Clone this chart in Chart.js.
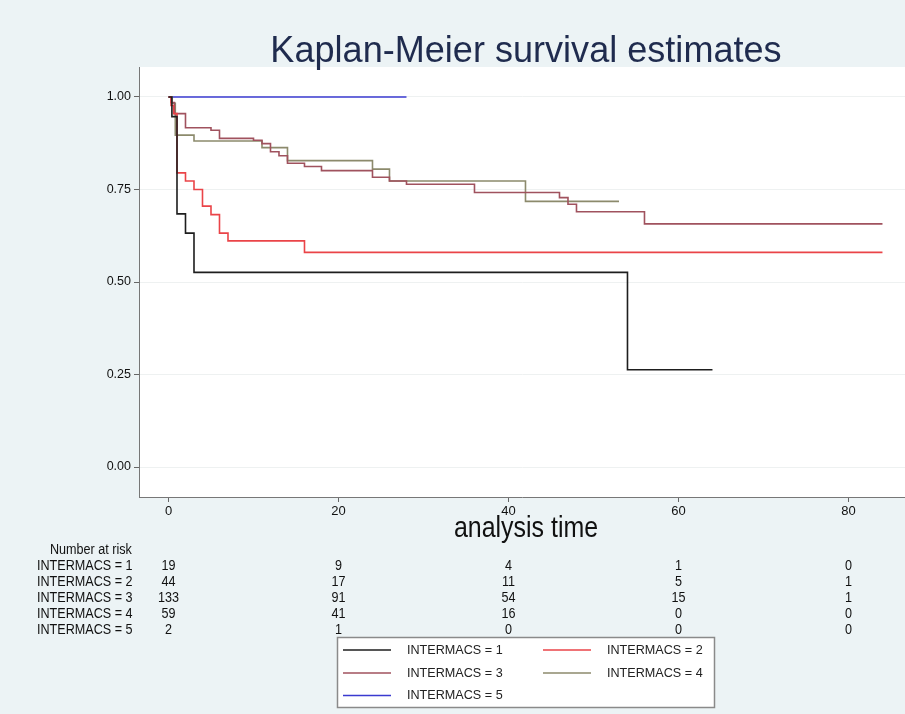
<!DOCTYPE html>
<html>
<head>
<meta charset="utf-8">
<script src="https://cdn.jsdelivr.net/npm/chart.js@4.4.1/dist/chart.umd.min.js"></script>
<style>
  html, body { margin: 0; padding: 0; background: #ecf3f5; }
  #wrap { width: 905px; height: 714px; position: relative; }
</style>
</head>
<body>
<div id="wrap"><canvas id="km" width="905" height="714"></canvas></div>
<script>
// Kaplan-Meier step functions: time of each drop and the survival after it
const groupNames = ['INTERMACS = 1', 'INTERMACS = 2', 'INTERMACS = 3', 'INTERMACS = 4', 'INTERMACS = 5'];

const timeG1 = [0, 0.4, 1, 2, 3, 54, 64];
const survG1 = [1, 0.947, 0.684, 0.632, 0.526, 0.263, 0.263];

const timeG2 = [0, 0.3, 0.6, 1, 2, 3, 4, 5, 6, 7, 16, 84];
const survG2 = [1, 0.977, 0.955, 0.795, 0.773, 0.750, 0.705, 0.682, 0.632, 0.611, 0.580, 0.580];

const timeG3 = [0, 0.3, 0.7, 2, 5, 6, 10, 11, 12, 13, 14, 16, 18, 24, 26, 28, 36, 46, 47, 48, 56, 84];
const survG3 = [1, 0.985, 0.955, 0.917, 0.910, 0.888, 0.883, 0.874, 0.852, 0.841, 0.821, 0.812, 0.801, 0.783, 0.773, 0.764, 0.742, 0.728, 0.710, 0.690, 0.657, 0.657];

const timeG4 = [0, 0.4, 0.8, 3, 11, 14, 24, 26, 42, 53];
const survG4 = [1, 0.983, 0.897, 0.881, 0.863, 0.828, 0.805, 0.773, 0.718, 0.718];

const timeG5 = [0, 28];
const survG5 = [1, 1];

// Number at risk at each labelled time
const riskTimes = [0, 20, 40, 60, 80];
const riskG1 = [19, 9, 4, 1, 0];
const riskG2 = [44, 17, 11, 5, 1];
const riskG3 = [133, 91, 54, 15, 1];
const riskG4 = [59, 41, 16, 0, 0];
const riskG5 = [2, 1, 0, 0, 0];

const xTicks = [0, 20, 40, 60, 80];
const yTicks = [0, 0.25, 0.5, 0.75, 1];

const lineColors = ['#1e1e1e', '#ea4448', '#a0525e', '#8c8a6c', '#3a3ad0'];

const times = [timeG1, timeG2, timeG3, timeG4, timeG5];
const survs = [survG1, survG2, survG3, survG4, survG5];
const risks = [riskG1, riskG2, riskG3, riskG4, riskG5];

const FONT = '"Liberation Sans", Arial, Helvetica, sans-serif';

function squeezedText(ctx, text, x, y, size, align, sx, color, baseline) {
  ctx.save();
  ctx.font = size + 'px ' + FONT;
  ctx.fillStyle = color;
  ctx.textBaseline = baseline || 'middle';
  ctx.textAlign = align;
  ctx.translate(x, y);
  ctx.scale(sx, 1);
  ctx.fillText(text, 0, 0);
  ctx.restore();
}

const decorations = {
  id: 'decorations',
  beforeDraw(chart) {
    const ctx = chart.ctx, a = chart.chartArea;
    ctx.save();
    ctx.fillStyle = '#ecf3f5';
    ctx.fillRect(0, 0, chart.width, chart.height);
    ctx.fillStyle = '#ffffff';
    ctx.fillRect(a.left, a.top, a.right - a.left, a.bottom - a.top);
    ctx.restore();
  },
  afterDraw(chart) {
    const ctx = chart.ctx, a = chart.chartArea, xs = chart.scales.x;
    const mid = (a.left + a.right) / 2;

    // title and x-axis title
    squeezedText(ctx, 'Kaplan-Meier survival estimates', mid + 4, 62, 37, 'center', 0.975, '#1f2b4e', 'alphabetic');
    squeezedText(ctx, 'analysis time', mid + 4, 529, 29, 'center', 0.86, '#111111');

    // number-at-risk table, columns placed on the x scale
    squeezedText(ctx, 'Number at risk', 50, 550, 14, 'left', 0.9, '#111111');
    const rowY = [566, 582, 598, 614, 630];
    groupNames.forEach((name, g) => {
      squeezedText(ctx, name, 37, rowY[g], 14, 'left', 0.9, '#111111');
      risks[g].forEach((n, k) => {
        squeezedText(ctx, String(n), xs.getPixelForValue(riskTimes[k]), rowY[g], 14, 'center', 0.9, '#111111');
      });
    });

    // legend box
    const bx = 337.5, by = 637.5, bw = 377, bh = 70;
    ctx.save();
    ctx.fillStyle = '#ffffff';
    ctx.fillRect(bx, by, bw, bh);
    ctx.strokeStyle = '#8a8a8a';
    ctx.lineWidth = 1.5;
    ctx.strokeRect(bx, by, bw, bh);
    ctx.restore();
    const slots = [[343, 650], [543, 650], [343, 673], [543, 673], [343, 695.5]];
    groupNames.forEach((name, g) => {
      const [lx, ly] = slots[g];
      ctx.save();
      ctx.strokeStyle = lineColors[g];
      ctx.lineWidth = 1.5;
      ctx.beginPath();
      ctx.moveTo(lx, ly);
      ctx.lineTo(lx + 48, ly);
      ctx.stroke();
      ctx.restore();
      squeezedText(ctx, name, lx + 64, ly, 13, 'left', 0.97, '#222222');
    });
  }
};

new Chart(document.getElementById('km'), {
  type: 'line',
  data: {
    datasets: groupNames.map((name, g) => ({
      label: name,
      data: times[g].map((t, i) => ({ x: t, y: survs[g][i] })),
      borderColor: lineColors[g],
      borderWidth: 1.6,
      pointRadius: 0,
      stepped: true,
      fill: false
    }))
  },
  options: {
    responsive: false,
    animation: false,
    devicePixelRatio: 1,
    layout: { padding: { top: 67, left: 0, right: 0, bottom: 0 } },
    plugins: { legend: { display: false }, tooltip: { enabled: false }, title: { display: false } },
    scales: {
      x: {
        type: 'linear',
        min: -3.47,
        max: 86.65,
        afterFit(s) { s.height = 217; },
        afterBuildTicks(s) { s.ticks = xTicks.map(v => ({ value: v })); },
        grid: { drawOnChartArea: false, drawTicks: true, tickLength: 5, tickColor: '#666666' },
        border: { color: '#777777', width: 1 },
        ticks: { color: '#111111', padding: 2, font: { family: FONT, size: 13 }, maxRotation: 0 }
      },
      y: {
        min: -0.081,
        max: 1.081,
        afterFit(s) { s.width = 139; },
        afterBuildTicks(s) { s.ticks = yTicks.map(v => ({ value: v })); },
        grid: { color: '#eef1f1', tickColor: '#666666', tickLength: 5 },
        border: { color: '#777777', width: 1 },
        ticks: { color: '#111111', padding: 3, font: { family: FONT, size: 12.5 }, callback: v => Number(v).toFixed(2) }
      }
    }
  },
  plugins: [decorations]
});
</script>
</body>
</html>
